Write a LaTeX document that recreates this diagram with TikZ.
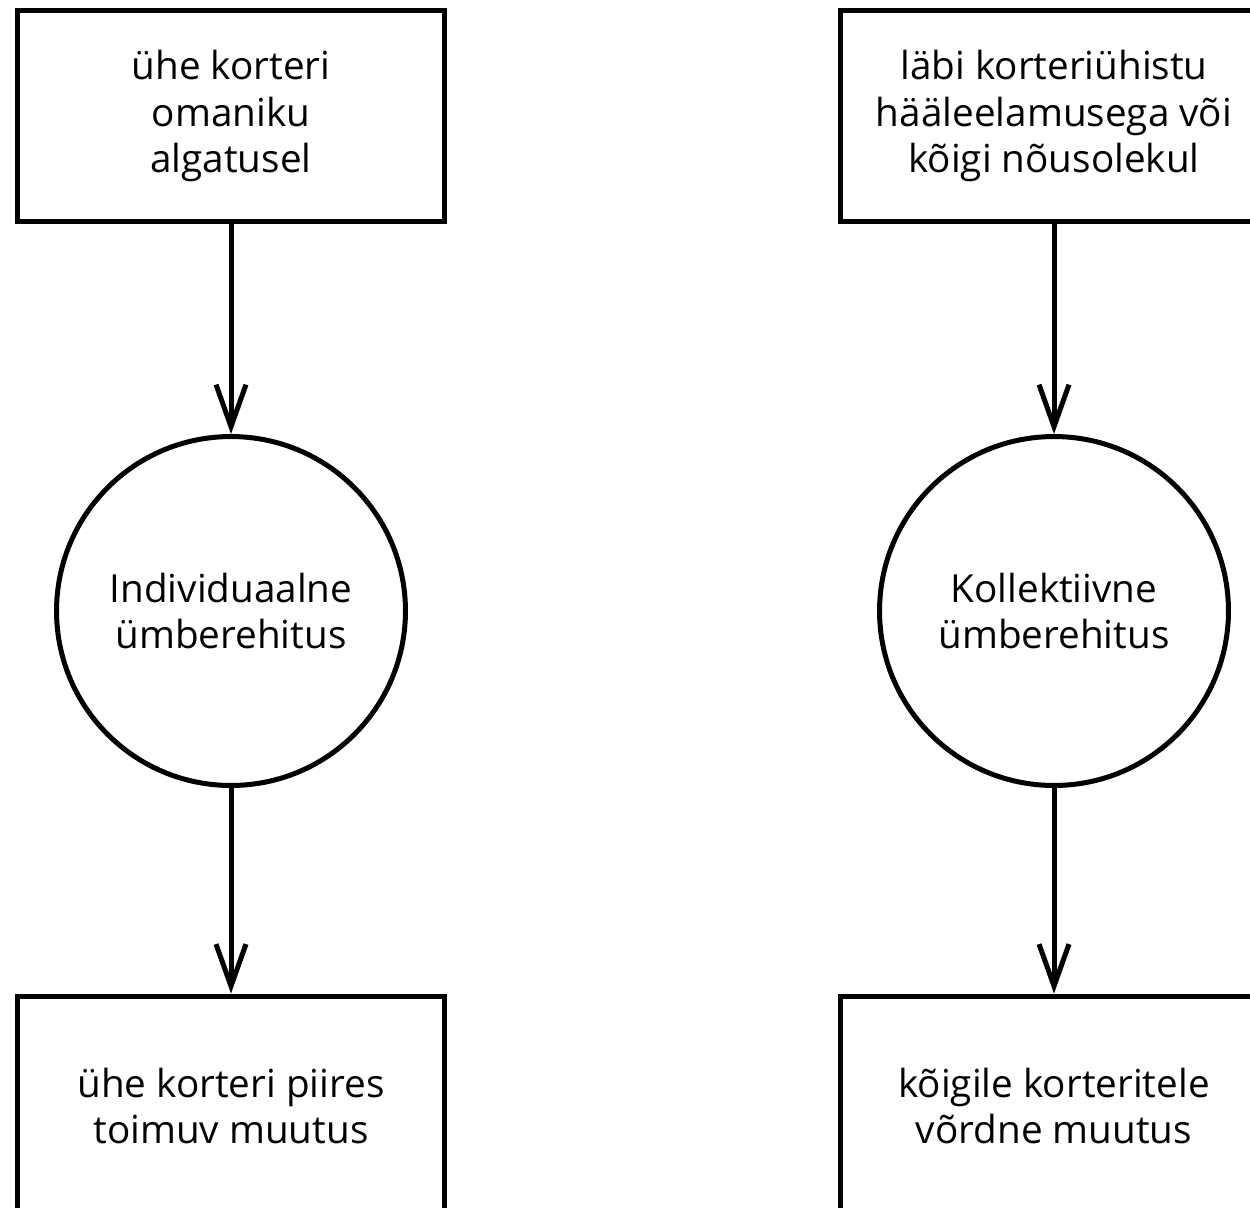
\documentclass[tikz,border=0pt]{standalone}
\usepackage{fontspec}
\setmainfont{Open Sans}
\usetikzlibrary{positioning,calc,arrows.meta}
\tikzset{font=\fontsize{22}{26.7}\selectfont}

\begin{document}
\begin{tikzpicture}[x=0.02cm, y=-0.02cm, line width=0.1cm]
	\useasboundingbox (0, 0) rectangle (1250, 1207);
	\clip (0, 0) rectangle (1250, 1207);
	\begin{scope}
		\tikzstyle{every node}=[align=center, inner sep=1pt]
		\tikzstyle{box}=[draw, minimum width=8.56cm, minimum height=4.24cm]
		\tikzstyle{round}=[draw, circle, minimum size=6.98cm]
		\node[box] (ind) at (231, 116) {ühe korteri\\omaniku\\algatusel};
		\node[round] (indreb) at (231, 611) {Individuaalne\\ümberehitus};
		\node[box, minimum height=4.4cm] (indch) at (231, 1106) {ühe korteri piires\\toimuv muutus};

		\node[box] (col) at (1054, 116) {läbi korteriühistu\\hääleelamusega või\\kõigi nõusolekul};
		\node[round] (colreb) at (1054, 611) {Kollektiivne\\ümberehitus};
		\node[box, minimum height=4.4cm] (colch) at (1054, 1106) {kõigile korteritele\\võrdne muutus};

		\draw [-{Straight Barb[length=0.84cm, width=0.6cm]}] (ind) to (indreb);
		\draw [-{Straight Barb[length=0.84cm, width=0.6cm]}] (indreb) to (indch);
		\draw [-{Straight Barb[length=0.84cm, width=0.6cm]}] (col) to (colreb);
		\draw [-{Straight Barb[length=0.84cm, width=0.6cm]}] (colreb) to (colch);
	\end{scope}
\end{tikzpicture}
\end{document}
